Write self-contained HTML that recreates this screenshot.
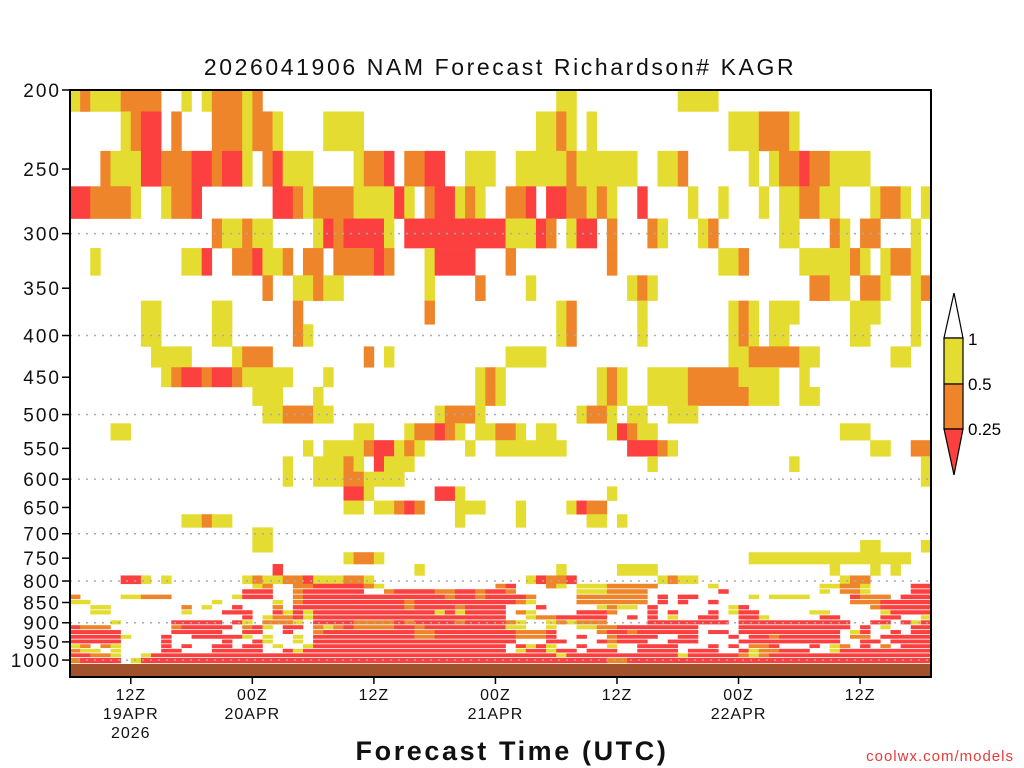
<!DOCTYPE html>
<html><head><meta charset="utf-8">
<style>
html,body{margin:0;padding:0;background:#fff;width:1024px;height:768px;overflow:hidden}
svg{display:block;font-family:"Liberation Sans",sans-serif}
</style></head>
<body>
<svg id="chart" width="1024" height="768" viewBox="0 0 1024 768" xmlns="http://www.w3.org/2000/svg">
<text x="500" y="75" text-anchor="middle" font-size="23" fill="#111" letter-spacing="2.6">2026041906 NAM Forecast Richardson# KAGR</text>
<g id="cells"></g>
<rect x="70" y="664" width="861" height="13" fill="#a0522d"/>
<g id="grid"></g>
<rect x="70" y="90" width="861" height="587" fill="none" stroke="#000" stroke-width="2"/>
<g id="yaxis"></g>
<g id="xaxis"></g>
<text x="512" y="760" text-anchor="middle" font-size="27" font-weight="bold" letter-spacing="2.6" fill="#111">Forecast Time (UTC)</text>
<text x="1014" y="761" text-anchor="end" font-size="15" fill="#e83a3a" letter-spacing="1">coolwx.com/models</text>
<g>
<polygon points="954,293 944,338 963,338" fill="#fff" stroke="#000" stroke-width="1.2"/>
<rect x="944" y="338" width="19" height="46" fill="#e5dc32" stroke="#000" stroke-width="1.2"/>
<rect x="944" y="384" width="19" height="45" fill="#ef852a" stroke="#000" stroke-width="1.2"/>
<polygon points="944,429 963,429 954,475" fill="#fc4040" stroke="#000" stroke-width="1.2"/>
<text x="968" y="345" font-size="17">1</text>
<text x="968" y="390" font-size="17">0.5</text>
<text x="968" y="435" font-size="17">0.25</text>
</g>
</svg>
<script>
var levels=[200,225,250,275,300,325,350,375,400,425,450,475,500,525,550,575,600,625,650,675,700,725,750,775,800,812.5,825,837.5,850,862.5,875,887.5,900,912.5,925,937.5,950,962.5,975,987.5,1000];
var rowRuns=[
"0y 1o 2-4y 5-8o 11y 13y 14-16o 17y 18o 48-49y 60-63y",
"5y 6o 7-8r 10o 14-16o 17y 18-19o 20y 25-28y 46-47y 48o 49y 51y 65-67y 68-70o 71y",
"3o 4-6y 7-8r 9-11o 12-13r 14o 15-16r 17y 19o 20r 21-23y 28y 29-30o 31r 33-34o 35-36r 39-41y 44-48y 49o 50-55y 58-59y 60o 67y 69y 70-71o 72r 73-74o 75-78y",
"0-1r 2-5o 6y 9y 10-11o 12r 20-21r 22o 23y 24-27o 28-31y 32r 33y 35o 36-37r 38y 39o 40y 43-44o 45r 47-48r 49-50o 51y 52o 53y 56r 61y 64y 68y 70-71y 72-73o 74-75y 79y 80-81o 82y 84y",
"14o 15-16y 17o 18-19y 24y 25r 26o 27-30r 31y 33-42r 43-45y 46r 47o 49y 50-51r 53o 57o 58y 62y 63o 70-71y 75o 76y 78-79o 83y",
"2y 11-12y 13r 16-17o 18r 19-20y 21o 23-24o 26-28o 29o 30r 31o 35y 36-39r 43o 53o 64-65y 66o 72-76y 77o 78y 80y 81-82o 83y",
"19o 22-23y 24o 25-26y 35y 40o 45y 55y 56o 57y 73-74o 75-76y 78-79o 80y 83y 84o",
"7-8y 14-15y 22o 35o 48y 49o 56y 65y 66o 67y 69-71y 77-79y 83y",
"7-8y 14-15y 22o 23y 48y 49o 56y 65y 66o 67y 69-70y 77-78y 83y",
"8-11y 16y 17-19o 29o 31y 43-46y 65-66y 67-71o 72-73y 81-82y",
"9y 10o 11-12r 13o 14-15r 16o 17-21y 25y 40y 41o 42y 52y 53o 54y 57-60y 61-65o 66-69y 72y",
"18-20y 24y 40y 41o 42y 52y 53o 54y 57-60y 61-66o 67-69y 72-73y",
"19-20y 21-23o 24-25y 36y 37-39o 40y 50y 51-52o 53y 55-56y 59-61y",
"4-5y 28-29y 33y 34-35o 36r 37o 38y 40-41y 42-43o 44y 46-47y 53y 54r 55o 56-57y 76-78y",
"23y 25-28y 29o 30-31r 32y 33o 34y 39y 42-48y 55-57r 58o 59y 79-80y 83-84o",
"21y 24-26y 27o 28y 30r 31-33y 57y 71y 84y",
"21y 24-26y 27-28o 29-32y 84y",
"27-28r 29y 36-37r 38y 53y",
"27-28y 30-31y 32o 33r 34o 38-40y 44y 49y 50r 51-52o",
"11-12y 13o 14-15y 38y 44y 51-52y 54y",
"18-19y",
"18-19y 78-79y 84y",
"27y 28-29o 30y 67-82y",
"20r 34y 48y 54-57y 75y 79y 81y",
"5-6r 7y 9y 17y 18o 19-20y 21-22o 23r 24-26y 27-28o 29y 45y 46r 47-48o 49r 58y 59o 60-61y 76y 77-78o",
"18y 19o 22-23o 24-28r 29o 30y 42o 43r 47o 48y 50-52y 53-57o 63y 74-75y 76-77o 78y 83-84r",
"17-19r 22o 23-28r 31o 32-35r 36-37o 38-39r 40o 41-42r 43o 50-52y 53-56o 64r 74y 76-77o 78y 83-84r",
"0o 5-6y 7-9o 16y 17-19r 22o 23-36r 37o 38-39r 40o 41-44r 45o 50-56o 58r 60-61r 67y 69-72y 77r 78-80o 82-84r",
"0-1y 14y 20y 22o 23-32r 33o 34-43r 44o 45y 50-56o 58r 60r 63r 77-79o 80-84r",
"2-3y 11o 13y 16r 20o 22-32r 33o 34-37r 38o 39-42r 46r 52y 53o 54-55y 57r 65y 66r 79o 80-84r",
"2-3y 11y 15-17r 20r 21y 22r 23y 24-35r 36y 37r 38y 39-42r 44o 45y 50-52r 53o 57r 59r 63r 65y 66-67r 73-74y 80y 81-84r",
"17r 19y 20-21o 22r 23y 24-42r 45y 46-47o 48-52r 55r 57r 59y 62-63r 66-67r 68y 74-75r 80-81r 84y",
"4y 10-14r 16r 17y 19-21o 22y 24-27r 28-31o 32r 33o 34-37r 38o 39-42r 43o 44y 47y 48o 49y 50-52o 57-64r 66-76r 79-80r 82r 83y 84r",
"0r 1-3o 10o 11-15r 17o 18r 19y 21-22r 24o 25y 26o 27r 28-31o 32-33r 34o 35-42r 43-44y 47y 50-51y 52-53o 54-61r 66-76r 78r 80y 83-84r",
"0-4r 10-14r 17-18r 21r 24o 25-33r 34-35o 36-43r 44-46o 47r 52o 53-54r 55o 56-61r 63-64r 66-75r 77y 78r 81r 83-84r",
"0-4r 5y 9r 12-16r 17y 19y 22y 24-33r 34-35o 36-43r 44-46o 47r 50r 53o 54-57r 60-61r 65r 67-68r 69o 70-75r 77-78o 80-84r",
"0-4r 9r 15r 18r 19y 22y 24-43r 47-48r 52r 53o 54-56r 59-61r 66-75r 78-79r 81-84r",
"0y 1o 3o 4y 9r 11r 14-15r 17-18r 20y 23y 24-42r 44r 45y 46r 47y 50r 53y 56-59r 63r 65r 67-68o 69r 73r 75y 76o 78r 80o 82-84r",
"0o 1-2y 4y 9-10r 14-18r 21r 22y 23-42r 44y 45-46r 47y 48-49r 51-53r 56-59r 61-63r 66r 67y 68-69o 70-72r 75y 76-84r",
"0-1r 2-3o 4y 7y 8-47r 48y 49-59r 60y 61-65r 66o 67y 68o 69-84r",
"0o 1-4r 6y 7-52r 53-54o 55-84r"
];
var yTickLabels=[200,250,300,350,400,450,500,550,600,650,700,750,800,850,900,950,1000];
var gridLevels=[300,400,500,600,700,800,900,1000];
var xTickHours=[6,18,30,42,54,66,78];
var xTickTop=["12Z","00Z","12Z","00Z","12Z","00Z","12Z"];
var xTickMid=["19APR","20APR","","21APR","","22APR",""];
var xTickBot=["2026","","","","","",""];
var nHours=85;

var NS="http://www.w3.org/2000/svg";
var colors={y:"#e5dc32",o:"#ef852a",r:"#fc4040"};
var X0=70,X1=931,Y0=90,PX=354.2;
function yScale(p){return Y0+PX*Math.log(p/200);}
function xScale(h){return X0+(X1-X0)*h/nHours;}
function mk(tag,attrs,parent){var e=document.createElementNS(NS,tag);for(var k in attrs)e.setAttribute(k,attrs[k]);parent.appendChild(e);return e;}

var cells=document.getElementById("cells");
levels.forEach(function(p,i){
  var top=i===0?yScale(200):yScale((p+levels[i-1])/2);
  var bot=i===levels.length-1?664:yScale((p+levels[i+1])/2);
  var thin=p>=812;
  rowRuns[i].split(" ").forEach(function(tok){
    if(!tok)return;
    var c=tok.slice(-1),r=tok.slice(0,-1).split("-");
    var a=+r[0],b=r.length>1?+r[1]:a;
    var h=thin?(bot-top-0.8):(bot-top+0.3);
    var rc=mk("rect",{x:xScale(a).toFixed(2),y:top.toFixed(2),width:(xScale(b+1)-xScale(a)+0.3).toFixed(2),height:h.toFixed(2),fill:colors[c]},cells);
    
    
  });
});

var grid=document.getElementById("grid");
gridLevels.forEach(function(p){
  var y=yScale(p);
  var l=mk("line",{x1:X0,x2:X1,y1:y,y2:y,stroke:"#aaa","stroke-width":1.5,"stroke-dasharray":"2 6"},grid);
  
  
});

var ya=document.getElementById("yaxis");
yTickLabels.forEach(function(p){
  var y=yScale(p);
  var t=mk("line",{x1:62,x2:70,y1:y,y2:y,stroke:"#000","stroke-width":1.5},ya);
  
  
  var tx=mk("text",{x:61,y:y+7,"text-anchor":"end","font-size":19,fill:"#111","letter-spacing":"2"},ya);
  tx.textContent=p;
  
  
});

var xa=document.getElementById("xaxis");
xTickHours.forEach(function(h,i){
  var x=xScale(h);
  var t=mk("line",{x1:x,x2:x,y1:677,y2:684,stroke:"#000","stroke-width":1.5},xa);
  
  
  [xTickTop[i],xTickMid[i],xTickBot[i]].forEach(function(s,j){
    if(!s)return;
    var tx=mk("text",{x:x,y:700+j*19,"text-anchor":"middle","font-size":16,fill:"#111","letter-spacing":"1"},xa);
    tx.textContent=s;
    
    
  });
});
</script>
</body></html>
